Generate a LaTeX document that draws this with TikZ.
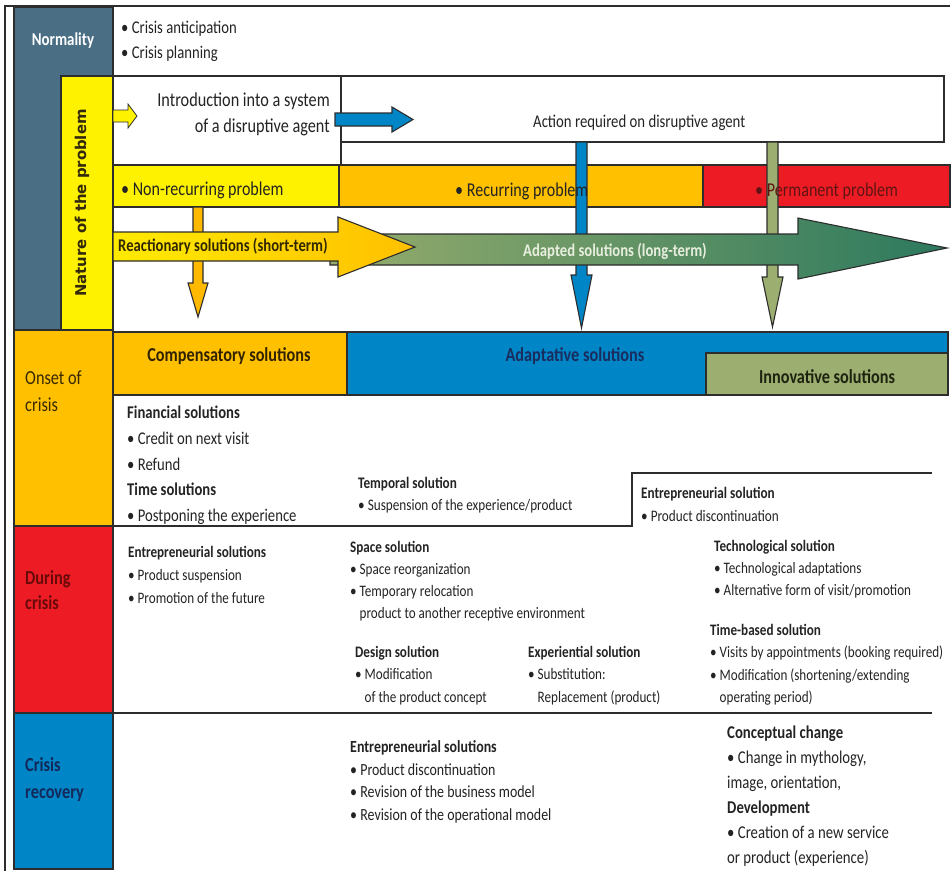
\documentclass[tikz,border=0pt]{standalone}
\usepackage{fontspec}
\setmainfont{Carlito}[FakeStretch=0.82]
\newfontfamily\widefont{DejaVu Sans}
\definecolor{slate}{RGB}{74,111,133}
\definecolor{lemon}{RGB}{255,242,0}
\definecolor{amber}{RGB}{255,192,0}
\definecolor{crimson}{RGB}{237,28,36}
\definecolor{ocean}{RGB}{0,133,198}
\definecolor{sage}{RGB}{156,174,112}
\definecolor{moss}{RGB}{150,172,108}
\definecolor{pine}{RGB}{44,121,94}
\definecolor{ink}{RGB}{35,35,35}
\definecolor{edge}{RGB}{45,45,45}
\tikzstyle{box}=[draw=edge, line width=1.1pt]
\tikzstyle{txt}=[inner sep=0pt, anchor=base west, align=left, text=ink]
\newcommand\setfs[2]{\fontsize{#1}{#2}\selectfont}
\newcommand\bgap{\phantom{• }}

\begin{document}
\begin{tikzpicture}[x=1pt, y=-1pt]
  \useasboundingbox (0,0) rectangle (952,871);

  % frame
  \draw[edge, line width=1.1pt] (5,871) -- (5,6) -- (950,6);

  % stage columns
  \filldraw[box, fill=slate] (14,7) rectangle (113,330);
  \filldraw[box, fill=amber] (14,330) rectangle (113,526);
  \filldraw[box, fill=crimson] (14,526) rectangle (113,713);
  \filldraw[box, fill=ocean] (14,713) rectangle (113,869);
  \filldraw[box, fill=lemon] (61,76) rectangle (113,330);

  % nature of the problem
  \filldraw[box, fill=white] (341,76) rectangle (944,142);
  \filldraw[box, fill=white] (113,76) rectangle (341,165);
  \filldraw[box, fill=lemon] (113,165) rectangle (339,207);
  \filldraw[box, fill=amber] (339,165) rectangle (703,207);
  \filldraw[box, fill=crimson] (703,165) rectangle (950,207);

  % downward arrows
  \filldraw[box, fill=amber!90!orange] (193,207) -- (203,207) -- (203,283) -- (208,283)
    -- (198,317) -- (188,283) -- (193,283) -- cycle;
  \filldraw[box, fill=ocean] (576,142) -- (587,142) -- (587,275) -- (592,275)
    -- (581.5,328) -- (571,275) -- (576,275) -- cycle;
  \filldraw[box, fill=sage] (767,142) -- (778,142) -- (778,277) -- (783,277)
    -- (772.5,327) -- (762,277) -- (767,277) -- cycle;

  % solution arrows
  \draw[box, left color=moss, right color=pine] (330,234) -- (798,234) -- (798,218)
    -- (947,248) -- (798,279) -- (798,265) -- (330,265) -- cycle;
  \draw[box, left color=lemon!85!amber, right color=amber] (113,232) -- (338,232) -- (338,217)
    -- (415,247) -- (338,277) -- (338,261) -- (113,261) -- cycle;
  \filldraw[box, line width=0.8pt, fill=lemon] (113,110) -- (128,110) -- (128,104)
    -- (137,116) -- (128,128) -- (128,122) -- (113,122) -- cycle;
  \filldraw[box, fill=ocean] (335,113) -- (392,113) -- (392,107) -- (413,119.5)
    -- (392,132) -- (392,126) -- (335,126) -- cycle;

  % solution headers
  \filldraw[box, fill=amber] (113,332) rectangle (347,395);
  \filldraw[box, fill=ocean] (347,332) rectangle (948,395);
  \filldraw[box, fill=sage] (706,353) rectangle (948,395);

  % row separators
  \draw[box] (113,526) -- (632,526) -- (632,473) -- (932,473);
  \draw[box] (113,713) -- (932,713);

  % stage labels (base = last line)
  \node[txt, anchor=base, text=white, font=\setfs{18.2}{24}\bfseries] (norm) at (63,45.9) {Normality};
  \node[inner sep=0pt, rotate=90, text={rgb,255:red,50;green,40;blue,10},
    font=\widefont\bfseries\fontsize{14.9}{18}\selectfont] (nature) at (82,203) {Nature of the problem};
  \node[txt, text={rgb,255:red,55;green,40;blue,0}, font=\setfs{19.9}{27}] (onset) at (25,411.4) {Onset of\\crisis};
  \node[txt, text={rgb,255:red,105;green,10;blue,10}, font=\setfs{19.9}{25}\bfseries] (during) at (25,609.4) {During\\crisis};
  \node[txt, text={rgb,255:red,20;green,40;blue,90}, font=\setfs{19.9}{27}\bfseries] (recov) at (25,798.4) {Crisis\\recovery};

  % problem texts
  \node[txt, font=\setfs{17.9}{25}] (antic) at (121,58.8) {• Crisis anticipation\\• Crisis planning};
  \node[txt, anchor=base east, align=right, font=\setfs{19.8}{26}] (intro) at (330,132.4)
    {Introduction into a system\\of a disruptive agent};
  \node[txt, font=\setfs{18}{24}] (action) at (533,127.8) {Action required on disruptive agent};
  \node[txt, font=\setfs{19.6}{24}] (nonrec) at (121,195.3) {• Non-recurring problem};
  \node[txt, font=\setfs{19.6}{24}] (recur) at (455,196) {• Recurring problem};
  \node[txt, text={rgb,255:red,95;green,20;blue,20}, font=\setfs{19.6}{24}] (perm) at (755,196) {• Permanent problem};
  \node[txt, text={rgb,255:red,50;green,40;blue,0}, font=\setfs{17.9}{24}\bfseries] (react) at (118,251.8)
    {Reactionary solutions (short-term)};
  \node[txt, text={rgb,255:red,232;green,238;blue,222}, font=\setfs{17.9}{24}\bfseries] (adapted) at (523,256.8)
    {Adapted solutions (long-term)};

  % headers
  \node[txt, anchor=base, text={rgb,255:red,50;green,35;blue,0}, font=\setfs{19.8}{24}\bfseries] (comp) at (229,361.4)
    {Compensatory solutions};
  \node[txt, anchor=base, text={rgb,255:red,25;green,45;blue,95}, font=\setfs{19.8}{24}\bfseries] (adapt) at (575,361.4)
    {Adaptative solutions};
  \node[txt, anchor=base, text={rgb,255:red,30;green,35;blue,15}, font=\setfs{19.8}{24}\bfseries] (innov) at (827,383.4)
    {Innovative solutions};

  % onset of crisis
  \node[txt, font=\setfs{17.9}{25.7}] (fin) at (127,521.6)
    {\textbf{Financial solutions}\\• Credit on next visit\\• Refund\\\textbf{Time solutions}\\• Postponing the experience};
  \node[txt, font=\setfs{16.1}{22}] (temporal) at (358,510.2)
    {\textbf{Temporal solution}\\• Suspension of the experience/product};
  \node[txt, font=\setfs{16.1}{23}] (entrsol) at (641,521.2)
    {\textbf{Entrepreneurial solution}\\• Product discontinuation};

  % during crisis
  \node[txt, font=\setfs{16}{23}] (entrdur) at (128,603.2)
    {\textbf{Entrepreneurial solutions}\\• Product suspension\\• Promotion of the future};
  \node[txt, font=\setfs{16}{22}] (space) at (350,618.2)
    {\textbf{Space solution}\\• Space reorganization\\• Temporary relocation\\\bgap product to another receptive environment};
  \node[txt, font=\setfs{16}{22.5}] (design) at (355,702.2)
    {\textbf{Design solution}\\• Modification\\\bgap of the product concept};
  \node[txt, font=\setfs{16}{22.5}] (exper) at (528,702.2)
    {\textbf{Experiential solution}\\• Substitution:\\\bgap Replacement (product)};
  \node[txt, font=\setfs{16}{22}] (techno) at (714,595.2)
    {\textbf{Technological solution}\\• Technological adaptations\\• Alternative form of visit/promotion};
  \node[txt, font=\setfs{16}{22.4}] (timeb) at (710,702.4)
    {\textbf{Time-based solution}\\• Visits by appointments (booking required)\\• Modification (shortening/extending\\\bgap operating period)};

  % crisis recovery
  \node[txt, font=\setfs{17}{22.7}] (entrrec) at (350,820.6)
    {\textbf{Entrepreneurial solutions}\\• Product discontinuation\\• Revision of the business model\\• Revision of the operational model};
  \node[txt, font=\setfs{18}{25}] (concept) at (727,863.8)
    {\textbf{Conceptual change}\\• Change in mythology,\\image, orientation,\\\textbf{Development}\\• Creation of a new service\\or product (experience)};
\end{tikzpicture}
\end{document}
